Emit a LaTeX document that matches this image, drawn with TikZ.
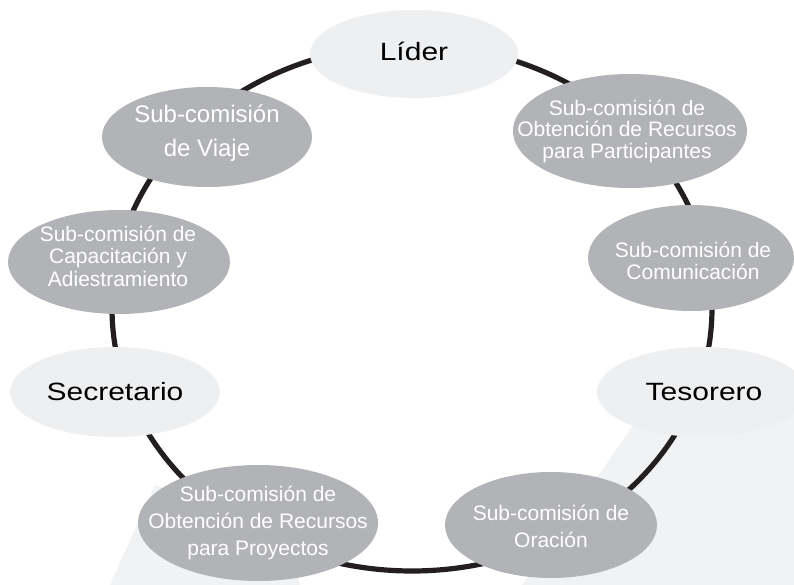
\documentclass[tikz,border=0pt]{standalone}
\usepackage{fontspec}
\setmainfont{Liberation Sans}
\newfontfamily\widefont{Liberation Sans}[FakeStretch=1.2]
\usetikzlibrary{shapes.geometric}
\definecolor{darkfill}{RGB}{178,179,182}
\definecolor{lightfill}{RGB}{238,239,241}
\definecolor{ringcol}{RGB}{35,31,32}
\definecolor{bgshape}{RGB}{241,242,243}
\begin{document}
\begin{tikzpicture}[x=1pt,y=-1pt,
  shell/.style={ellipse, inner sep=0pt, draw=none},
  darknode/.style={shell, fill=darkfill},
  lightnode/.style={shell, fill=lightfill},
  darktext/.style={text=white, align=center, inner sep=0pt, font=\fontsize{21}{22}\selectfont},
  lighttext/.style={text=black, align=center, inner sep=0pt, font=\widefont\fontsize{25}{28}\selectfont},
  ring/.style={draw=ringcol, line width=5.2pt}
]
\useasboundingbox (0,0) rectangle (794,585);
% faint background shapes
\fill[bgshape] (651,400) -- (794,400) -- (794,585) -- (522,585) -- cycle;
\fill[bgshape] (110,585) -- (155,485) -- (290,540) -- (300,585) -- cycle;
% ring
\draw[ring] (412,308) ellipse [x radius=300, y radius=263];
% shapes
\node[lightnode, minimum width=208, minimum height=88] (lider) at (414,54) {};
\node[darknode, minimum width=210, minimum height=100] (viaje) at (207,137) {};
\node[darknode, minimum width=222, minimum height=104] (capac) at (119,262) {};
\node[lightnode, minimum width=210, minimum height=90] (secre) at (115,392) {};
\node[darknode, minimum width=240, minimum height=116] (proy) at (258,523) {};
\node[darknode, minimum width=212, minimum height=106] (orac) at (551,525) {};
\node[lightnode, minimum width=210, minimum height=90] (teso) at (702,392) {};
\node[darknode, minimum width=206, minimum height=106] (comun) at (691,258) {};
\node[darknode, minimum width=234, minimum height=114] (partic) at (630,131) {};
% texts
\node[lighttext] (liderT) at (414,51) {Líder};
\node[darktext, font=\fontsize{24}{34}\selectfont] (viajeT) at (207,133) {Sub-comisión\\de Viaje};
\node[darktext, font=\fontsize{21}{22.5}\selectfont] (capacT) at (118,256) {Sub-comisión de\\Capacitación y\\Adiestramiento};
\node[lighttext] (secreT) at (115,392) {Secretario};
\node[darktext, font=\fontsize{21}{27}\selectfont] (proyT) at (258,523) {Sub-comisión de\\Obtención de Recursos\\para Proyectos};
\node[darktext, font=\fontsize{21}{27}\selectfont] (oracT) at (551,526) {Sub-comisión de\\Oración};
\node[lighttext] (tesoT) at (704,392) {Tesorero};
\node[darktext] (comunT) at (693,261) {Sub-comisión de\\Comunicación};
\node[darktext, font=\fontsize{21}{21.5}\selectfont] (particT) at (627,131) {Sub-comisión de\\Obtención de Recursos\\para Participantes};
\end{tikzpicture}
\end{document}
